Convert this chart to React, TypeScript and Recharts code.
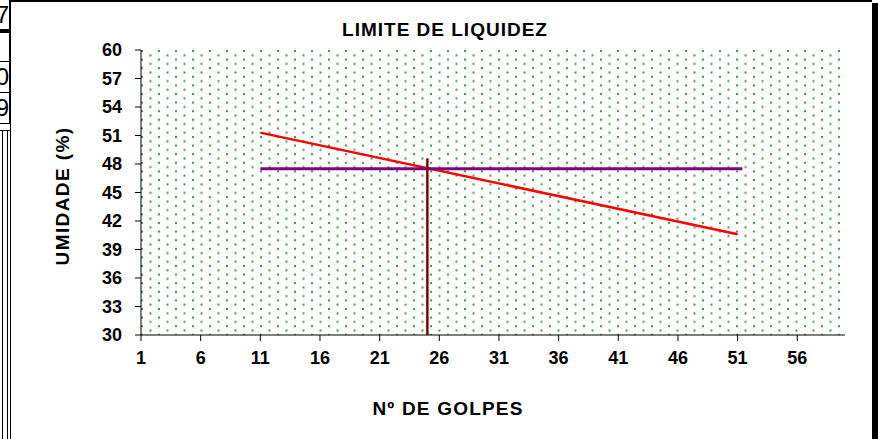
import React from "react";
import { LineChart, Line, XAxis, YAxis, CartesianGrid } from "recharts";

// Nº de golpes / umidade
const redLine = [
  { x: 11, y: 51.3 },
  { x: 51, y: 40.6 },
];
const purpleLine = [
  { x: 11, y: 47.5 },
  { x: 51.4, y: 47.5 },
];
const maroonLine = [
  { x: 25, y: 30 },
  { x: 25, y: 48.6 },
];
const xTicks = [1, 6, 11, 16, 21, 26, 31, 36, 41, 46, 51, 56];
const yTicks = [30, 33, 36, 39, 42, 45, 48, 51, 54, 57, 60];
const sideCells = ["7", "", "0", "9"];

const FONT = "'Liberation Sans', Arial, sans-serif";
const tickStyle = { fontSize: 18, fontWeight: 700, fill: "#000", fontFamily: FONT };

function SideTable() {
  const rows = [
    { top: 0, h: 29 },
    { top: 33, h: 28 },
    { top: 62, h: 30 },
    { top: 93, h: 30 },
  ];
  return (
    <>
      {rows.map((r, i) => (
        <div
          key={i}
          style={{
            position: "absolute", left: -20, top: r.top, width: 29, height: r.h,
            borderBottom: "1px solid #000", borderRight: "1px solid #000",
            overflow: "hidden", fontFamily: FONT, fontSize: 24, lineHeight: r.h + "px",
            textAlign: "right",
          }}
        >
          {sideCells[i]}
        </div>
      ))}
      <div style={{ position: "absolute", left: 0, top: 29, width: 10, height: 4, background: "#000" }} />
      <div style={{ position: "absolute", left: 2, top: 130, width: 4, height: 320, borderLeft: "1px solid #000", borderRight: "1px solid #000" }} />
      <div style={{ position: "absolute", left: 0, top: 130, width: 10, height: 0, borderTop: "1px solid #000" }} />
    </>
  );
}

export default function App() {
  return (
    <div style={{ position: "absolute", left: 0, top: 0, width: 878, height: 439, background: "#fff", overflow: "hidden" }}>
      <SideTable />
      <div style={{ position: "absolute", left: 10, top: 0, width: 862, height: 2, background: "#000" }} />
      <div style={{ position: "absolute", left: 10, top: 0, width: 1, height: 439, background: "#000" }} />
      <div style={{ position: "absolute", left: 872, top: 3, width: 6, height: 436, background: "#000" }} />
      <div style={{ position: "absolute", left: 0, top: 0 }}>
        <LineChart width={878} height={439} margin={{ top: 50, right: 33, bottom: 74, left: 81 }}>
          <defs>
            <pattern id="dots" patternUnits="userSpaceOnUse" x={141} y={50} width={17} height={8.6}>
              <rect x={0} y={0} width={2} height={2} fill="#3c9c3c" />
              <rect x={8.5} y={4.3} width={2} height={2} fill="#3c9c3c" />
            </pattern>
          </defs>
          <CartesianGrid horizontal={false} vertical={false} fill="url(#dots)" fillOpacity={1} />
          <XAxis
            type="number" dataKey="x" domain={[1, 60]} ticks={xTicks} allowDataOverflow
            axisLine={{ stroke: "#000" }} tickLine={{ stroke: "#000" }} tickSize={6} tickMargin={10}
            tick={tickStyle} height={30} interval={0}
          />
          <YAxis
            type="number" dataKey="y" domain={[30, 60]} ticks={yTicks} allowDataOverflow
            axisLine={{ stroke: "#000" }} tickLine={{ stroke: "#000" }} tickSize={6} tickMargin={13}
            tick={tickStyle} width={60} interval={0}
          />
          <Line data={redLine} dataKey="y" stroke="#ff0000" strokeWidth={2.5} dot={false} isAnimationActive={false} />
          <Line data={purpleLine} dataKey="y" stroke="#800080" strokeWidth={3} dot={false} isAnimationActive={false} />
          <Line data={maroonLine} dataKey="y" stroke="#800000" strokeWidth={2.5} dot={false} isAnimationActive={false} />
        </LineChart>
      </div>
      <div style={{ position: "absolute", left: 10, width: 870, top: 19, textAlign: "center", fontFamily: FONT, fontWeight: 700, fontSize: 19, letterSpacing: 1 }}>
        LIMITE DE LIQUIDEZ
      </div>
      <div style={{ position: "absolute", left: 10, width: 876, top: 398, textAlign: "center", fontFamily: FONT, fontWeight: 700, fontSize: 19, letterSpacing: 1.2 }}>
        Nº DE GOLPES
      </div>
      <div
        style={{
          position: "absolute", left: 63, top: 196, width: 220, marginLeft: -110, marginTop: -11, height: 22,
          textAlign: "center", fontFamily: FONT, fontWeight: 700, fontSize: 19, lineHeight: "22px", letterSpacing: 1.4,
          transform: "rotate(-90deg)",
        }}
      >
        UMIDADE (%)
      </div>
    </div>
  );
}
